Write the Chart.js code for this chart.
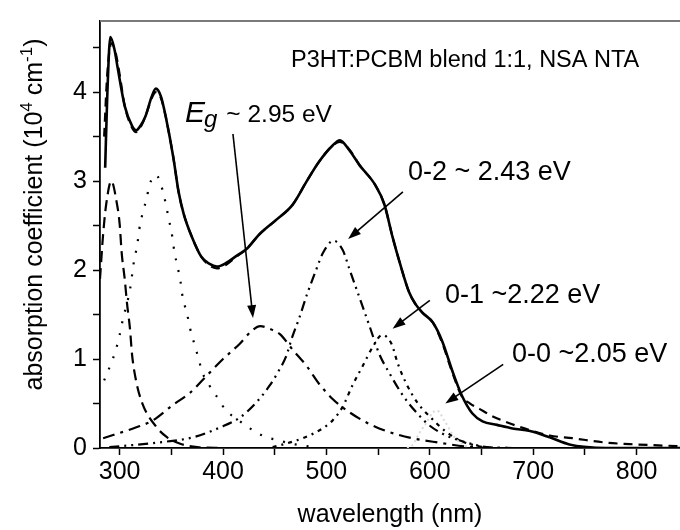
<!DOCTYPE html>
<html>
<head>
<meta charset="utf-8">
<script src="https://cdn.jsdelivr.net/npm/chart.js@4.4.0/dist/chart.umd.min.js"></script>
<style>
  html, body { margin: 0; padding: 0; background: #fff; }
  #wrap { width: 680px; height: 530px; }
</style>
</head>
<body>
<div id="wrap"><canvas id="chart" width="680" height="530"></canvas></div>
<script>
// measured spectrum (solid)
const expWl  = [286, 288, 291, 295, 298, 305, 312, 316, 320, 325, 331, 335, 340, 345, 352, 357, 362, 370, 379, 387, 394, 403, 413, 423, 435, 452, 467, 481, 493, 506, 513, 522, 532, 547, 556, 564, 571, 580, 586, 593, 603, 612, 622, 631, 641, 651, 665, 680, 697, 716, 735, 752, 770, 800, 842];
const expAbs = [3.15, 3.95, 4.62, 4.48, 4.28, 3.84, 3.62, 3.57, 3.62, 3.73, 3.95, 4.04, 3.95, 3.70, 3.26, 2.88, 2.63, 2.37, 2.15, 2.07, 2.04, 2.08, 2.16, 2.24, 2.40, 2.57, 2.73, 3.00, 3.22, 3.40, 3.46, 3.35, 3.18, 2.96, 2.74, 2.37, 2.08, 1.75, 1.62, 1.52, 1.41, 1.20, 0.86, 0.59, 0.39, 0.30, 0.26, 0.22, 0.19, 0.12, 0.04, 0.01, 0, 0, 0];

// fit (dashed)
const fitWl  = [285, 288, 292, 296, 300, 305, 312, 316, 320, 325, 331, 335, 340, 345, 352, 357, 362, 370, 379, 387, 394, 403, 413, 423, 435, 452, 467, 481, 493, 506, 513, 522, 532, 547, 556, 564, 571, 580, 586, 593, 603, 612, 622, 631, 639, 648, 660, 679, 697, 716, 738, 771, 800, 842];
const fitAbs = [3.5, 4.2, 4.55, 4.45, 4.2, 3.84, 3.6, 3.55, 3.6, 3.73, 3.93, 4.0, 3.93, 3.70, 3.26, 2.88, 2.63, 2.37, 2.15, 2.05, 2.02, 2.06, 2.15, 2.24, 2.40, 2.57, 2.73, 3.00, 3.22, 3.40, 3.44, 3.36, 3.18, 2.96, 2.74, 2.37, 2.08, 1.75, 1.62, 1.52, 1.41, 1.18, 0.84, 0.58, 0.50, 0.44, 0.36, 0.27, 0.20, 0.14, 0.11, 0.06, 0.04, 0.02];

// gaussian components
const c1Wl  = [281, 284, 287, 292, 297, 300, 302, 305, 307, 310, 312, 316, 322, 336, 346, 358, 375, 400];
const c1Abs = [1.9, 2.4, 2.74, 3.0, 2.77, 2.52, 2.19, 1.89, 1.64, 1.34, 1.05, 0.75, 0.5, 0.23, 0.12, 0.05, 0.01, 0];

const c2Wl  = [285, 291, 296, 300, 303, 310, 314, 317, 319, 322, 326, 329, 335, 342, 345, 348, 351, 353, 356, 359, 361, 365, 368, 372, 376, 380, 387, 395, 403, 413, 426, 438, 452, 470, 490];
const c2Abs = [0.76, 0.93, 1.09, 1.27, 1.44, 1.78, 2.11, 2.28, 2.46, 2.63, 2.8, 2.96, 3.07, 2.88, 2.72, 2.55, 2.37, 2.2, 2.04, 1.86, 1.69, 1.52, 1.35, 1.18, 1.02, 0.85, 0.7, 0.56, 0.42, 0.33, 0.22, 0.14, 0.09, 0.04, 0.01];

const egWl  = [284, 313, 332, 351, 368, 384, 400, 416, 428, 436, 445, 455, 467, 481, 493, 506, 513, 532, 551, 583, 609, 641, 680];
const egAbs = [0.11, 0.22, 0.31, 0.48, 0.62, 0.81, 1.0, 1.17, 1.32, 1.37, 1.34, 1.28, 1.11, 0.92, 0.72, 0.55, 0.48, 0.33, 0.22, 0.11, 0.06, 0.01, 0];

const p02Wl  = [290, 336, 371, 397, 416, 432, 445, 453, 461, 467, 474, 481, 489, 497, 507, 516, 522, 532, 542, 551, 561, 574, 587, 600, 616, 636, 655, 680];
const p02Abs = [0.01, 0.06, 0.12, 0.23, 0.34, 0.51, 0.7, 0.85, 1.03, 1.25, 1.47, 1.72, 1.97, 2.2, 2.33, 2.22, 2.02, 1.69, 1.36, 1.06, 0.84, 0.59, 0.4, 0.25, 0.14, 0.06, 0.01, 0];

const p01Wl  = [448, 467, 487, 506, 516, 525, 535, 545, 554, 563, 569, 577, 588, 602, 616, 632, 651];
const p01Abs = [0.01, 0.07, 0.16, 0.31, 0.47, 0.7, 0.92, 1.14, 1.27, 1.17, 0.95, 0.73, 0.51, 0.33, 0.18, 0.07, 0.01];

const p00Wl  = [578, 583, 590, 597, 603, 607, 614, 624, 636];
const p00Abs = [0, 0.03, 0.17, 0.29, 0.4, 0.42, 0.31, 0.12, 0.01];

const xMajor = [300, 400, 500, 600, 700, 800];
const xMinor = [350, 450, 550, 650, 750];
const yMajor = [0, 1, 2, 3, 4];
const yMinor = [0.5, 1.5, 2.5, 3.5, 4.5];

// annotation texts and arrows in data coordinates [wavelength, value]
const noteTexts  = ['0-2 ~ 2.43 eV', '0-1 ~2.22 eV', '0-0 ~2.05 eV'];
const noteAnchor = [[578.9, 3.01], [614.7, 1.63], [679.5, 0.97]];
const arrowFrom  = [[409.6, 3.53], [574, 2.88], [600, 1.66], [671, 0.94]];
const arrowTo    = [[429, 1.46], [521, 2.35], [564, 1.34], [615, 0.5]];
const egAnchor   = [363.2, 3.66];
const titleAnchor = [465.7, 4.28];

const FONT = "'Liberation Sans', Arial, Helvetica, sans-serif";

function pts(xs, ys) {
    return xs.map((x, i) => ({ x: x, y: ys[i] }));
}

function series(xs, ys, dash, width, color) {
    return {
        data: pts(xs, ys),
        borderColor: color || '#000',
        borderWidth: width,
        borderDash: dash,
        pointRadius: 0,
        fill: false,
        cubicInterpolationMode: 'monotone'
    };
}

function arrow(ctx, x1, y1, x2, y2) {
    const ang = Math.atan2(y2 - y1, x2 - x1);
    const len = 13, half = 4.5;
    ctx.beginPath();
    ctx.moveTo(x1, y1);
    ctx.lineTo(x2 - Math.cos(ang) * len * 0.8, y2 - Math.sin(ang) * len * 0.8);
    ctx.stroke();
    ctx.beginPath();
    ctx.moveTo(x2, y2);
    ctx.lineTo(x2 - Math.cos(ang) * len - Math.sin(ang) * half, y2 - Math.sin(ang) * len + Math.cos(ang) * half);
    ctx.lineTo(x2 - Math.cos(ang) * len + Math.sin(ang) * half, y2 - Math.sin(ang) * len - Math.cos(ang) * half);
    ctx.closePath();
    ctx.fill();
}

const annotate = {
    id: 'annotate',
    afterDraw(chart) {
        const ctx = chart.ctx;
        const area = chart.chartArea;
        const xs = chart.scales.x, ys = chart.scales.y;
        ctx.save();

        // top frame line
        ctx.strokeStyle = '#7a7a7a';
        ctx.lineWidth = 2;
        ctx.beginPath();
        ctx.moveTo(area.left, area.top);
        ctx.lineTo(area.right, area.top);
        ctx.stroke();

        ctx.fillStyle = '#000';
        ctx.strokeStyle = '#000';
        ctx.textBaseline = 'alphabetic';
        ctx.textAlign = 'left';

        // title
        ctx.font = '23.5px ' + FONT;
        ctx.fillText('P3HT:PCBM blend 1:1, NSA NTA', xs.getPixelForValue(titleAnchor[0]), ys.getPixelForValue(titleAnchor[1]));

        // E_g label
        let ex = xs.getPixelForValue(egAnchor[0]);
        const ey = ys.getPixelForValue(egAnchor[1]);
        ctx.font = 'italic 30px ' + FONT;
        ctx.fillText('E', ex, ey);
        ex += ctx.measureText('E').width - 1;
        ctx.font = 'italic 24px ' + FONT;
        ctx.fillText('g', ex, ey + 5);
        ex += ctx.measureText('g').width + 9;
        ctx.font = '24.5px ' + FONT;
        ctx.fillText('~ 2.95 eV', ex, ey);

        ctx.font = '27px ' + FONT;
        noteTexts.forEach((t, i) => {
            ctx.fillText(t, xs.getPixelForValue(noteAnchor[i][0]), ys.getPixelForValue(noteAnchor[i][1]));
        });

        ctx.lineWidth = 1.6;
        arrowFrom.forEach((f, i) => {
            arrow(ctx,
                xs.getPixelForValue(f[0]), ys.getPixelForValue(f[1]),
                xs.getPixelForValue(arrowTo[i][0]), ys.getPixelForValue(arrowTo[i][1]));
        });

        // y axis title with superscripts
        ctx.translate(42, (area.top + area.bottom) / 2 - 20);
        ctx.rotate(-Math.PI / 2);
        const parts = [
            ['absorption coefficient (10', 25, 0],
            ['4', 17, -10],
            [' cm', 25, 0],
            ['-1', 17, -10],
            [')', 25, 0]
        ];
        let total = 0;
        parts.forEach(p => { ctx.font = p[1] + 'px ' + FONT; total += ctx.measureText(p[0]).width; });
        let px = -total / 2;
        parts.forEach(p => {
            ctx.font = p[1] + 'px ' + FONT;
            ctx.fillText(p[0], px, p[2]);
            px += ctx.measureText(p[0]).width;
        });
        ctx.restore();
    }
};

const tickFont = { family: FONT, size: 25 };

new Chart(document.getElementById('chart'), {
    type: 'line',
    data: {
        datasets: [
            series(p00Wl, p00Abs, [2, 3], 2, '#d9d9d9'),
            series(c1Wl, c1Abs, [11, 6], 2.2),
            series(c2Wl, c2Abs, [2, 10], 2.2),
            series(egWl, egAbs, [12, 6, 3, 6], 2.2),
            series(p02Wl, p02Abs, [10, 5, 2, 5, 2, 5], 2.2),
            series(p01Wl, p01Abs, [4, 5, 2, 5], 2.2),
            series(fitWl, fitAbs, [9, 6], 2.2),
            series(expWl, expAbs, [], 2.6)
        ]
    },
    options: {
        responsive: false,
        animation: false,
        devicePixelRatio: 1,
        layout: { padding: { top: 13, right: 0, left: 0, bottom: 0 } },
        plugins: { legend: { display: false }, tooltip: { enabled: false } },
        scales: {
            x: {
                type: 'linear',
                min: 281,
                max: 842,
                afterBuildTicks: s => { s.ticks = xMajor.concat(xMinor).sort((a, b) => a - b).map(v => ({ value: v })); },
                afterFit: s => { s.height = 82; },
                ticks: {
                    color: '#000',
                    font: tickFont,
                    padding: 2,
                    maxRotation: 0,
                    autoSkip: false,
                    callback: v => xMajor.includes(v) ? String(v) : ''
                },
                grid: { drawOnChartArea: false, tickLength: 7, tickColor: '#000', tickWidth: 1.5 },
                border: { display: true, color: '#000', width: 1.8 },
                title: { display: true, text: 'wavelength (nm)', color: '#000', font: { family: FONT, size: 25 }, padding: { top: 0, bottom: 0 } }
            },
            y: {
                type: 'linear',
                min: 0,
                max: 4.8,
                afterBuildTicks: s => { s.ticks = yMajor.concat(yMinor).sort((a, b) => a - b).map(v => ({ value: v })); },
                afterFit: s => { s.width = 100; },
                ticks: {
                    color: '#000',
                    font: tickFont,
                    padding: 6,
                    autoSkip: false,
                    callback: v => yMajor.includes(v) ? String(v) : ''
                },
                grid: { drawOnChartArea: false, tickLength: 7, tickColor: '#000', tickWidth: 1.5 },
                border: { display: true, color: '#000', width: 1.8 }
            }
        }
    },
    plugins: [annotate]
});
</script>
</body>
</html>
